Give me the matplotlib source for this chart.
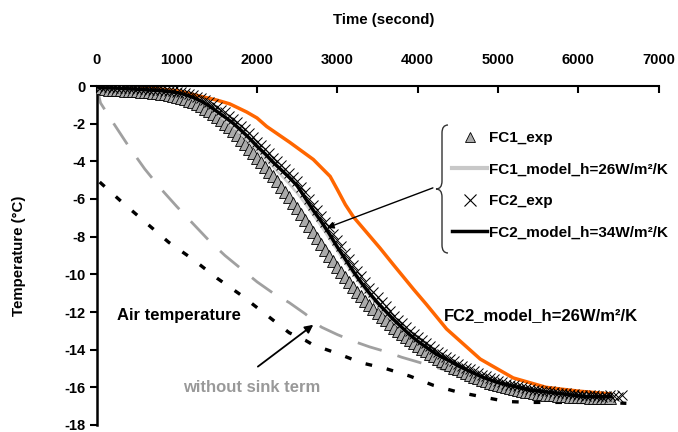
import matplotlib
matplotlib.use("Agg")
import matplotlib.pyplot as plt
from matplotlib.path import Path
from matplotlib.patches import PathPatch
from matplotlib.lines import Line2D

plt.rcParams['font.family'] = ['Liberation Sans', 'DejaVu Sans']
plt.rcParams['font.weight'] = 'bold'

# ---- data ----
t_fc1_exp = list(range(0, 6450, 50))  # 0..6400
fc1_exp = [0.0, -0.1, -0.15, -0.2, -0.2, -0.22, -0.22, -0.25, -0.25, -0.27,
           -0.28, -0.3, -0.3, -0.33, -0.35, -0.38, -0.4, -0.43, -0.47, -0.52,
           -0.57, -0.63, -0.7, -0.78, -0.87, -0.97, -1.08, -1.2, -1.33, -1.48,
           -1.64, -1.82, -2.0, -2.2, -2.4, -2.62, -2.85, -3.08, -3.32, -3.56,
           -3.8, -4.05, -4.3, -4.55, -4.8, -5.07, -5.35, -5.62, -5.9, -6.2,
           -6.5, -6.8, -7.1, -7.42, -7.75, -8.07, -8.4, -8.7, -9.0, -9.3,
           -9.6, -9.88, -10.15, -10.42, -10.68, -10.93, -11.17, -11.4, -11.62, -11.84,
           -12.05, -12.25, -12.45, -12.64, -12.83, -13.0, -13.17, -13.33, -13.5, -13.65,
           -13.8, -13.94, -14.08, -14.22, -14.35, -14.48, -14.6, -14.72, -14.84, -14.95,
           -15.05, -15.15, -15.25, -15.35, -15.44, -15.52, -15.6, -15.68, -15.75, -15.82,
           -15.89, -15.95, -16.0, -16.05, -16.1, -16.15, -16.19, -16.23, -16.27, -16.3,
           -16.33, -16.36, -16.39, -16.41, -16.43, -16.45, -16.46, -16.48, -16.5, -16.5,
           -16.52, -16.53, -16.53, -16.55, -16.55, -16.56, -16.55, -16.56, -16.55]

t_fc2_exp = list(range(0, 6600, 50))  # 0..6550
fc2_exp = [0.0, -0.03, -0.05, -0.07, -0.08, -0.09, -0.1, -0.11, -0.12, -0.13,
           -0.15, -0.16, -0.17, -0.19, -0.2, -0.21, -0.22, -0.24, -0.25, -0.27,
           -0.3, -0.34, -0.38, -0.44, -0.5, -0.57, -0.65, -0.75, -0.85, -0.97,
           -1.1, -1.25, -1.4, -1.57, -1.75, -1.92, -2.1, -2.3, -2.5, -2.72,
           -2.95, -3.15, -3.35, -3.57, -3.8, -4.0, -4.2, -4.4, -4.6, -4.82,
           -5.05, -5.35, -5.65, -5.98, -6.3, -6.6, -6.9, -7.2, -7.5, -7.85,
           -8.2, -8.52, -8.85, -9.17, -9.5, -9.8, -10.1, -10.4, -10.7, -10.95,
           -11.2, -11.45, -11.7, -11.95, -12.2, -12.4, -12.6, -12.8, -13.0, -13.17,
           -13.35, -13.5, -13.65, -13.8, -13.95, -14.1, -14.25, -14.38, -14.5, -14.62,
           -14.75, -14.85, -14.95, -15.05, -15.15, -15.25, -15.35, -15.42, -15.5, -15.57,
           -15.65, -15.72, -15.8, -15.85, -15.9, -15.95, -16.0, -16.05, -16.1, -16.12,
           -16.15, -16.18, -16.2, -16.22, -16.25, -16.28, -16.3, -16.32, -16.35, -16.37,
           -16.4, -16.42, -16.45, -16.4, -16.4, -16.45, -16.5, -16.45, -16.4, -16.45,
           -16.5, -16.4]

t_model = list(range(0, 6500, 100))  # 0..6400
fc1_model = [-0.05, -0.1, -0.12, -0.14, -0.17, -0.2, -0.23, -0.26, -0.3, -0.35,
             -0.42, -0.53, -0.67, -0.85, -1.1, -1.45, -1.8, -2.15, -2.55, -2.95,
             -3.4, -3.85, -4.3, -4.75, -5.2, -5.7, -6.25, -6.85, -7.45, -8.1,
             -8.75, -9.4, -10.0, -10.6, -11.15, -11.65, -12.1, -12.5, -12.9, -13.25,
             -13.6, -13.9, -14.2, -14.45, -14.7, -14.9, -15.1, -15.3, -15.5, -15.65,
             -15.8, -15.9, -16.0, -16.1, -16.2, -16.25, -16.3, -16.35, -16.4, -16.4,
             -16.45, -16.5, -16.5, -16.5, -16.5]
fc2_model_34 = [-0.05, -0.1, -0.1, -0.12, -0.15, -0.17, -0.2, -0.22, -0.25, -0.3,
                -0.35, -0.45, -0.6, -0.8, -1.05, -1.35, -1.65, -1.97, -2.35, -2.75,
                -3.2, -3.6, -4.05, -4.45, -4.85, -5.3, -5.95, -6.6, -7.2, -7.85,
                -8.55, -9.2, -9.85, -10.45, -11.0, -11.5, -11.95, -12.4, -12.8, -13.2,
                -13.55, -13.85, -14.15, -14.4, -14.6, -14.85, -15.05, -15.25, -15.45, -15.6,
                -15.75, -15.85, -15.95, -16.05, -16.15, -16.2, -16.25, -16.3, -16.35, -16.4,
                -16.45, -16.5, -16.5, -16.5, -16.5]

t_orange = [0, 500, 1000, 1130, 1300, 1500, 1660, 1870, 2000, 2120, 2410, 2700,
            2910, 3000, 3100, 3200, 3370, 3530, 3700, 3950, 4110, 4360, 4780,
            5190, 5600, 6000, 6400]
fc2_model_26 = [0.0, -0.05, -0.25, -0.37, -0.55, -0.75, -0.95, -1.38, -1.7, -2.15,
                -3.0, -3.9, -4.8, -5.5, -6.3, -6.95, -7.8, -8.6, -9.5, -10.8, -11.6,
                -12.9, -14.5, -15.5, -16.0, -16.2, -16.35]

t_air = [40, 300, 600, 900, 1200, 1500, 1800, 2100, 2400, 2600, 2700, 3000, 3300,
         3600, 3900, 4200, 4500, 4800, 5100, 5400, 5700, 6000, 6300, 6600]
air_temp = [-5.1, -6.1, -7.2, -8.3, -9.2, -10.2, -11.1, -12.1, -13.1, -13.5, -13.75,
            -14.2, -14.7, -15.0, -15.4, -15.9, -16.25, -16.5, -16.75, -16.8, -16.8,
            -16.8, -16.8, -16.85]

t_nosink = [0, 50, 200, 400, 600, 800, 1000, 1200, 1400, 1600, 1800, 2000, 2200,
            2400, 2600, 2800, 3000, 3200, 3400, 3600, 3800, 4000, 4200, 4400, 4600,
            4800, 5000, 5200, 5400, 5600, 5800, 6000, 6200, 6400]
no_sink = [0.0, -0.9, -1.9, -3.2, -4.4, -5.45, -6.4, -7.3, -8.2, -9.0, -9.7, -10.4,
           -11.0, -11.5, -12.1, -12.8, -13.2, -13.55, -13.85, -14.1, -14.4, -14.65,
           -14.9, -15.15, -15.4, -15.6, -15.8, -15.95, -16.1, -16.2, -16.3, -16.4,
           -16.45, -16.5]

x_ticks = [0, 1000, 2000, 3000, 4000, 5000, 6000, 7000]
y_ticks = [0, -2, -4, -6, -8, -10, -12, -14, -16, -18]

# ---- figure ----
W, H = 678, 432
fig = plt.figure(figsize=(W / 100, H / 100), dpi=100)
ax = fig.add_axes([96.5 / W, 1 - 425 / H, 562 / W, 339 / H])
ax.set_xlim(0, 7000)
ax.set_ylim(-18, 0)

ax.plot(t_nosink, no_sink, color='#a0a0a0', lw=2.0, dashes=(9, 6), zorder=1)
ax.plot(t_air, air_temp, color='black', lw=2.4, dashes=(2, 4.5), zorder=1)
ax.plot(t_orange, fc2_model_26, color='#ff6600', lw=2.5, zorder=2)
ax.plot(t_fc1_exp, fc1_exp, ls='none', marker='^', ms=9, mfc='#aaaaaa',
        mec='black', mew=0.6, zorder=3)
ax.plot(t_model, fc1_model, color='#d0d0d0', lw=1.8, zorder=4)
ax.plot(t_model, fc2_model_34, color='black', lw=2.5, zorder=5)
ax.plot(t_fc2_exp, fc2_exp, ls='none', marker='x', ms=6.5, mec='black',
        mew=0.7, zorder=6)

# axes styling
for s in ['right', 'bottom']:
    ax.spines[s].set_visible(False)
ax.spines['left'].set_linewidth(1.8)
ax.spines['top'].set_linewidth(1.5)
ax.xaxis.tick_top()
ax.set_xticks(x_ticks)
ax.set_xticklabels([str(v) for v in x_ticks])
ax.set_yticks(y_ticks)
ax.set_yticklabels([str(v) for v in y_ticks])
ax.tick_params(axis='x', direction='in', length=5, width=1.5, pad=14, labelsize=10.5)
ax.tick_params(axis='y', direction='out', length=5, width=1.5, pad=3, labelsize=10.5)
for lab in ax.get_xticklabels() + ax.get_yticklabels():
    lab.set_fontweight('bold')

fig.text(384 / W, 1 - 20 / H, 'Time (second)', ha='center', va='center',
         fontsize=10.8, fontweight='bold')
fig.text(19 / W, 1 - 256 / H, 'Temperature (°C)', ha='center', va='center',
         rotation=90, fontsize=10.8, fontweight='bold')

# annotations
ax.text(255, -12.2, 'Air temperature', fontsize=12, fontweight='bold',
        ha='left', va='center')
ax.text(1077, -16.0, 'without sink term', fontsize=12, fontweight='bold',
        color='#999999', ha='left', va='center')
ax.text(4330, -12.2, 'FC2_model_h=26W/m²/K', fontsize=12, fontweight='bold',
        ha='left', va='center')

ax.annotate('', xy=(2700, -12.68), xytext=(2010, -14.9),
            arrowprops=dict(arrowstyle='-|>', color='black', lw=1.3,
                            mutation_scale=12, shrinkA=0, shrinkB=0))
ax.annotate('', xy=(2870, -7.53), xytext=(4190, -5.41),
            arrowprops=dict(arrowstyle='-|>', color='black', lw=1.0,
                            mutation_scale=10, shrinkA=0, shrinkB=0))

# legend
handles = [Line2D([], [], ls='none', marker='^', ms=7.5, mfc='#aaaaaa', mec='black', mew=0.6),
           Line2D([], [], color='#c8c8c8', lw=3),
           Line2D([], [], ls='none', marker='x', ms=8, mec='black', mew=0.8),
           Line2D([], [], color='black', lw=2.5)]
labels = ['FC1_exp', 'FC1_model_h=26W/m²/K', 'FC2_exp', 'FC2_model_h=34W/m²/K']
leg = ax.legend(handles, labels, loc='upper left',
                bbox_to_anchor=(452 / W, 1 - 131 / H), bbox_transform=fig.transFigure,
                frameon=False, fontsize=11, handlelength=2.3, handletextpad=0.15,
                labelspacing=1.15, borderpad=0, borderaxespad=0)
for txt in leg.get_texts():
    txt.set_fontweight('bold')

# brace (axes fraction coordinates)
x0 = (442 - 96.5) / 562
ytop = 1 - (125 - 86) / 339
ybot = 1 - (253 - 86) / 339
ymid = 1 - (189 - 86) / 339
dx = 6 / 562
dy = 8 / 339
verts = [(x0 + dx, ytop), (x0, ytop), (x0, ytop - dy),
         (x0, ymid + dy),
         (x0, ymid), (x0 - dx, ymid),
         (x0, ymid), (x0, ymid - dy),
         (x0, ybot + dy),
         (x0, ybot), (x0 + dx, ybot)]
codes = [Path.MOVETO, Path.CURVE3, Path.CURVE3,
         Path.LINETO,
         Path.CURVE3, Path.CURVE3,
         Path.CURVE3, Path.CURVE3,
         Path.LINETO,
         Path.CURVE3, Path.CURVE3]
ax.add_patch(PathPatch(Path(verts, codes), transform=ax.transAxes, fill=False,
                       lw=1.0, edgecolor='#333333', clip_on=False))

fig.savefig('out.png', dpi=100)
